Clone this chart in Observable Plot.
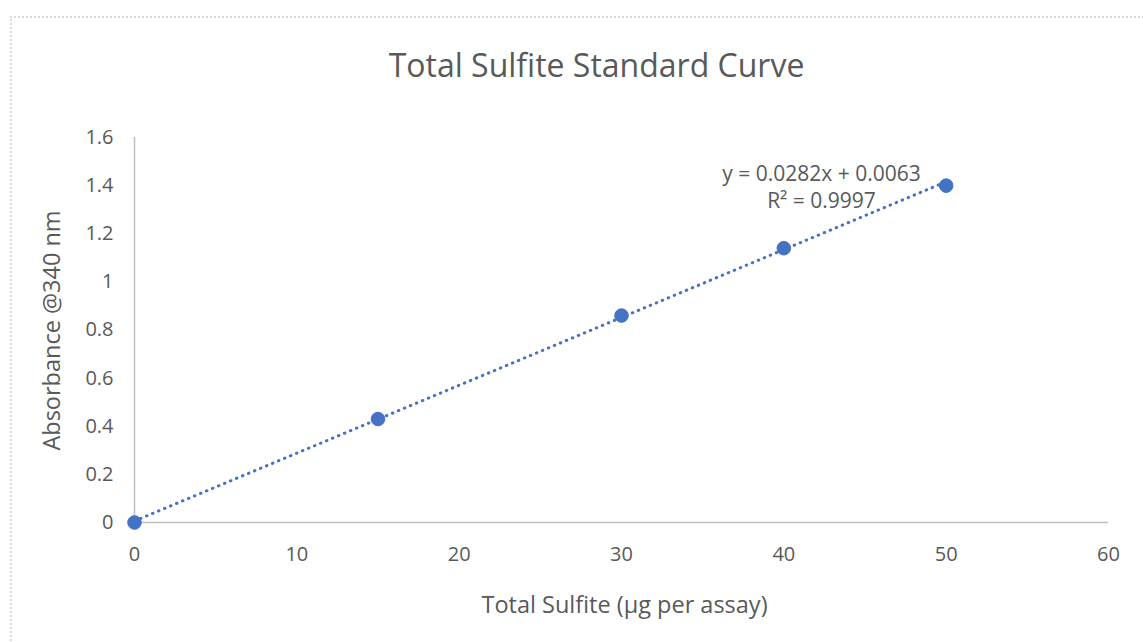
<!DOCTYPE html>
<html>
<head>
<meta charset="utf-8">
<script src="https://cdn.jsdelivr.net/npm/d3@7"></script>
<script src="https://cdn.jsdelivr.net/npm/@observablehq/plot@0.6"></script>
<style>
  html, body { margin: 0; padding: 0; background: #fff; }
  #wrap { position: relative; width: 1143px; height: 642px; overflow: hidden; font-family: "Open Sans", sans-serif; }
  #border { position: absolute; left: 10px; top: 16px; width: 1150px; height: 640px; border: 2px dotted #d9d9d9; box-sizing: border-box; }
  #title { position: absolute; left: 0; top: 0; width: 1193px; height: 100px; line-height: 130px; text-align: center; font-size: 32px; color: #595959; }
  #chart { position: absolute; left: 0; top: 100px; }
</style>
</head>
<body>
<div id="wrap">
  <div id="border"></div>
  <div id="title">Total Sulfite Standard Curve</div>
  <div id="chart"></div>
</div>
<script>
const sulfite = [0, 15, 30, 40, 50];
const absorbance = [0, 0.43, 0.86, 1.14, 1.40];
const slope = 0.0282;
const intercept = 0.0063;
const fitRange = [0, 50];
const xTicks = [0, 10, 20, 30, 40, 50, 60];
const yTicks = [0, 0.2, 0.4, 0.6, 0.8, 1, 1.2, 1.4, 1.6];
const equationLines = ["y = 0.0282x + 0.0063", "R² = 0.9997"];

const points = sulfite.map((x, i) => ({x, y: absorbance[i]}));
const fit = fitRange.map(x => ({x, y: slope * x + intercept}));
const blue = "#4472C4";
const grey = "#595959";

const plot = Plot.plot({
  width: 1143,
  height: 542,
  marginLeft: 134,
  marginRight: 35,
  marginTop: 37,
  marginBottom: 120,
  style: { fontFamily: "'Open Sans', sans-serif", fontSize: "20px", color: grey, background: "transparent", overflow: "visible" },
  x: { domain: [0, 60], label: null },
  y: { domain: [0, 1.6], label: null },
  marks: [
    Plot.ruleX([0], { stroke: "#bfbfbf", strokeWidth: 1.5 }),
    Plot.ruleY([0], { stroke: "#bfbfbf", strokeWidth: 1.5 }),
    Plot.axisX({ ticks: xTicks, tickSize: 0, tickPadding: 24, tickFormat: d => String(d), label: null, fill: grey, fontSize: 20 }),
    Plot.axisY({ ticks: yTicks, tickSize: 0, tickPadding: 21, tickFormat: d => String(+d.toFixed(1)), label: null, fill: grey, fontSize: 20 }),
    Plot.line(fit, { x: "x", y: "y", stroke: blue, strokeWidth: 3, strokeDasharray: "0.5 6", strokeLinecap: "round" }),
    Plot.dot(points, { x: "x", y: "y", r: 6.8, fill: blue, stroke: blue, strokeWidth: 1 }),
    Plot.text([equationLines[0]], { frameAnchor: "top-left", dx: 821 - 134, dy: 174 - 137, textAnchor: "middle", lineAnchor: "middle", fill: grey, fontSize: 21 }),
    Plot.text([equationLines[1]], { frameAnchor: "top-left", dx: 821 - 134, dy: 201 - 137, textAnchor: "middle", lineAnchor: "middle", fill: grey, fontSize: 21 }),
    Plot.text(["Total Sulfite (µg per assay)"], { frameAnchor: "bottom", textAnchor: "middle", lineAnchor: "middle", dy: 605 - 522, dx: 624 - (134 + 1108) / 2, fontSize: 23.5, fill: grey }),
    Plot.text(["Absorbance @340 nm"], { frameAnchor: "left", textAnchor: "middle", lineAnchor: "middle", dx: 52 - 134, dy: 330 - (137 + 522) / 2, rotate: -90, fontSize: 23.5, fill: grey })
  ]
});
document.getElementById("chart").appendChild(plot);
</script>
</body>
</html>
